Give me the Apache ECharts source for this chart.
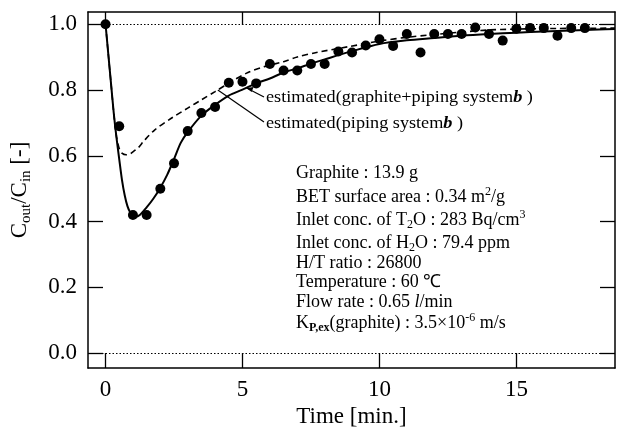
<!DOCTYPE html>
<html>
<head>
<meta charset="utf-8">
<script src="https://cdn.jsdelivr.net/npm/echarts@6/dist/echarts.min.js"></script>
<style>
  html, body { margin: 0; padding: 0; background: #fff; }
  #chart { width: 620px; height: 428px; }
</style>
</head>
<body>
<div id="chart"></div>
<script>
// Axis ticks
const timeTicks = [0, 5, 10, 15];
const ratioTicks = [0, 0.2, 0.4, 0.6, 0.8, 1.0];
const referenceLevels = [0, 1];

// Measured outlet/inlet concentration ratio (one sample every 0.5 min)
const measuredTime = [0, 0.5, 1, 1.5, 2, 2.5, 3, 3.5, 4, 4.5, 5, 5.5, 6, 6.5, 7, 7.5, 8, 8.5,
  9, 9.5, 10, 10.5, 11, 11.5, 12, 12.5, 13, 13.5, 14, 14.5, 15, 15.5, 16, 16.5, 17, 17.5];
const measuredRatio = [1.0, 0.69, 0.42, 0.42, 0.50, 0.577, 0.675, 0.73, 0.748, 0.822, 0.825, 0.82,
  0.879, 0.859, 0.859, 0.879, 0.879, 0.917, 0.914, 0.935, 0.954, 0.934, 0.97, 0.914,
  0.97, 0.97, 0.97, 0.99, 0.97, 0.95, 0.986, 0.988, 0.988, 0.965, 0.988, 0.988];

// Estimated curve: graphite + piping system
const graphitePipingTime = [0, 0.1, 0.2, 0.3, 0.4, 0.5, 0.6, 0.7, 0.8, 0.9, 1.0, 1.1, 1.25, 1.5, 1.75,
  2.0, 2.25, 2.5, 2.75, 3.0, 3.5, 4.0, 4.5, 5.0, 5.5, 6.0, 6.5, 7.0, 7.5, 8.0, 9.0, 10.0,
  11.0, 12.0, 13.0, 14.0, 15.0, 16.0, 17.0, 18.0, 18.6];
const graphitePipingRatio = [1.0, 0.91, 0.82, 0.73, 0.655, 0.59, 0.527, 0.48, 0.447, 0.428, 0.418, 0.415,
  0.42, 0.443, 0.47, 0.503, 0.542, 0.59, 0.64, 0.672, 0.722, 0.755, 0.783, 0.801, 0.82, 0.835,
  0.853, 0.866, 0.88, 0.893, 0.918, 0.94, 0.951, 0.958, 0.965, 0.970, 0.974, 0.978, 0.981, 0.984, 0.985];

// Estimated curve: piping system only
const pipingTime = [0, 0.1, 0.2, 0.3, 0.4, 0.5, 0.6, 0.75, 0.9, 1.0, 1.2, 1.4, 1.8, 2.4, 3.0, 3.5, 4.0, 4.6,
  5.2, 5.8, 6.5, 7.0, 7.7, 8.9, 10.1, 11.0, 11.8, 13.0, 13.9, 15.0, 16.5, 18.6];
const pipingRatio = [1.0, 0.91, 0.82, 0.73, 0.658, 0.622, 0.608, 0.603, 0.606, 0.612, 0.625, 0.645,
  0.679, 0.714, 0.745, 0.77, 0.795, 0.826, 0.853, 0.871, 0.886, 0.9, 0.914, 0.932, 0.95, 0.96,
  0.967, 0.976, 0.982, 0.985, 0.987, 0.988];

const serif = "'Liberation Serif', 'Times New Roman', serif";
const pairs = (xs, ys) => xs.map((x, i) => [x, ys[i]]);

const chart = echarts.init(document.getElementById('chart'), null, { renderer: 'canvas' });

const frameLine = { show: true, onZero: false, lineStyle: { color: '#000', width: 1.5 } };
const tickStyle = { color: '#000', width: 1.3 };
const xRange = { min: -0.64, max: 18.6 };
const yRange = { min: -0.045, max: 1.037 };

chart.setOption({
  animation: false,
  backgroundColor: '#fff',
  grid: { left: 88, right: 5, top: 12, bottom: 60, containLabel: false, outerBoundsMode: 'none' },
  xAxis: [
    Object.assign({
      type: 'value', position: 'bottom',
      axisLine: frameLine,
      axisTick: { inside: true, length: 15, customValues: timeTicks, lineStyle: tickStyle },
      axisLabel: { customValues: timeTicks, fontFamily: serif, fontSize: 23, color: '#000', margin: 10 },
      splitLine: { show: false },
      name: 'Time [min.]', nameLocation: 'middle', nameGap: 31,
      nameTextStyle: { fontFamily: serif, fontSize: 23, color: '#000' }
    }, xRange),
    Object.assign({
      type: 'value', position: 'top',
      axisLine: frameLine,
      axisTick: { inside: true, length: 13, customValues: timeTicks, lineStyle: tickStyle },
      axisLabel: { show: false },
      splitLine: { show: false }
    }, xRange)
  ],
  yAxis: [
    Object.assign({
      type: 'value', position: 'left',
      axisLine: frameLine,
      axisTick: { inside: true, length: 15, customValues: ratioTicks, lineStyle: tickStyle },
      axisLabel: {
        customValues: ratioTicks, fontFamily: serif, fontSize: 23, color: '#000', margin: 11,
        formatter: v => v.toFixed(1)
      },
      splitLine: { show: false },
      name: 'C{sub|out}/C{sub|in} [-]', nameLocation: 'middle', nameRotate: 90, nameGap: 54,
      nameTextStyle: {
        fontFamily: serif, fontSize: 23, color: '#000', lineHeight: 28,
        rich: { sub: { fontFamily: serif, fontSize: 15, lineHeight: 14, verticalAlign: 'bottom', color: '#000' } }
      }
    }, yRange),
    Object.assign({
      type: 'value', position: 'right',
      axisLine: frameLine,
      axisTick: { inside: true, length: 15, customValues: ratioTicks, lineStyle: tickStyle },
      axisLabel: { show: false },
      splitLine: { show: false }
    }, yRange)
  ],
  series: [
    {
      name: 'estimated(graphite+piping system)', type: 'line',
      data: pairs(graphitePipingTime, graphitePipingRatio),
      showSymbol: false, smooth: 0.3, z: 3,
      lineStyle: { color: '#000', width: 2 }
    },
    {
      name: 'estimated(piping system)', type: 'line',
      data: pairs(pipingTime, pipingRatio),
      showSymbol: false, smooth: 0.3, z: 2,
      lineStyle: { color: '#000', width: 1.6, type: [6, 4] }
    },
    {
      name: 'measured', type: 'scatter',
      data: pairs(measuredTime, measuredRatio),
      symbol: 'circle', symbolSize: 10, z: 4,
      itemStyle: { color: '#000', opacity: 1 },
      markLine: {
        silent: true, symbol: 'none', label: { show: false },
        lineStyle: { color: '#000', width: 1.2, type: [1.5, 2], opacity: 1 },
        data: referenceLevels.map(v => ({ yAxis: v }))
      }
    }
  ]
});

// Annotations: leader lines point at the two estimated curves
const tip1 = chart.convertToPixel({ gridIndex: 0 }, [5.15, 0.806]);
const tip2 = chart.convertToPixel({ gridIndex: 0 }, [4.1, 0.80]);
const textStyleBase = { fontFamily: serif, fill: '#000' };
const sub = { fontFamily: serif, fontSize: 12, lineHeight: 12, verticalAlign: 'bottom' };
const subBold = { fontFamily: serif, fontSize: 12, lineHeight: 12, verticalAlign: 'bottom', fontWeight: 'bold' };
const sup = { fontFamily: serif, fontSize: 12, lineHeight: 12, verticalAlign: 'top' };
const bi = { fontFamily: serif, fontSize: 17, fontWeight: 'bold', fontStyle: 'italic' };
const it = { fontFamily: serif, fontSize: 18, fontStyle: 'italic' };

const infoLines = [
  'Graphite : 13.9 g',
  'BET surface area : 0.34 m{sup|2}/g',
  'Inlet conc. of T{sub|2}O : 283 Bq/cm{sup|3}',
  'Inlet conc. of H{sub|2}O : 79.4 ppm',
  'H/T ratio : 26800',
  'Temperature : 60 \u2103',
  'Flow rate : 0.65 {it|l}/min',
  'K{subb|P,ex}(graphite) : 3.5\u00d710{sup|-6} m/s'
];
const infoY = [173, 197, 220, 243, 263, 282, 302, 323];

const graphics = infoLines.map((t, i) => ({
  type: 'text', left: 296, top: infoY[i] - 11,
  style: Object.assign({
    text: t, fontSize: 18, lineHeight: 22,
    rich: { sub: sub, subb: subBold, sup: sup, it: it }
  }, textStyleBase)
}));

graphics.push(
  {
    type: 'text', x: 266, y: 98, scaleX: 1.07,
    style: Object.assign({
      text: 'estimated(graphite+piping system{b|b} )', fontSize: 17, verticalAlign: 'middle',
      rich: { b: bi }
    }, textStyleBase)
  },
  {
    type: 'text', x: 266, y: 124, scaleX: 1.07,
    style: Object.assign({
      text: 'estimated(piping system{b|b} )', fontSize: 17, verticalAlign: 'middle',
      rich: { b: bi }
    }, textStyleBase)
  },
  {
    type: 'line',
    shape: { x1: 264, y1: 97, x2: tip1[0], y2: tip1[1] },
    style: { stroke: '#000', lineWidth: 1.2 }
  },
  {
    type: 'polygon',
    shape: { points: [[tip1[0], tip1[1]], [tip1[0] + 7, tip1[1] - 1], [tip1[0] + 5, tip1[1] + 4]] },
    style: { fill: '#000' }
  },
  {
    type: 'line',
    shape: { x1: 264, y1: 122, x2: tip2[0], y2: tip2[1] },
    style: { stroke: '#000', lineWidth: 1.2 }
  }
);

chart.setOption({ graphic: graphics });
</script>
</body>
</html>
